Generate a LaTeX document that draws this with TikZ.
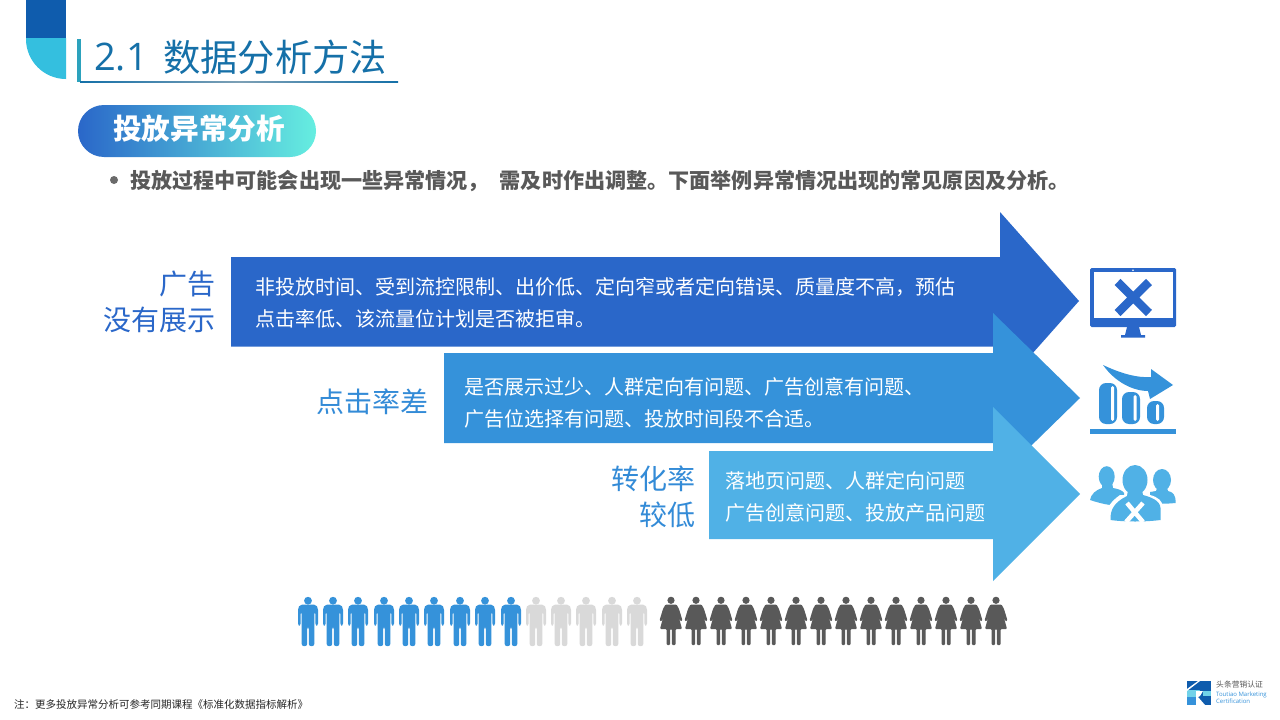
\documentclass[tikz,border=0pt]{standalone}
\usepackage{fontspec}
\setmainfont{Noto Sans CJK SC}
\newfontfamily\latinfont{Open Sans}
\usetikzlibrary{shadings}
\definecolor{deep}{HTML}{2A67C9}
\definecolor{mid}{HTML}{3592DA}
\definecolor{light}{HTML}{50B1E6}
\definecolor{navy}{HTML}{0F5CAD}
\definecolor{cyan2}{HTML}{34BFDF}
\definecolor{titleblue}{HTML}{1570A8}
\definecolor{dgray}{HTML}{595959}
\definecolor{mangray}{HTML}{D9D9D9}
\definecolor{pillend}{HTML}{66EEE0}
\tikzset{
  x=1pt,y=-1pt,
  bodytext/.style={font=\fontsize{20}{32}\selectfont,text=white,anchor=west,align=left,inner sep=0pt},
  sidelabel/.style={font=\fontsize{28}{36}\selectfont,anchor=east,align=right,inner sep=0pt},
  man/.pic={
    \fill[pic actions] (0,3.7) circle (3.9);
    \fill[pic actions,rounded corners=2] (-10,11) -- (-8,7.6) -- (8,7.6) -- (10,11) -- (10,28.5) -- (7.4,28.5) -- (7.4,15) -- (6.3,15) -- (6.3,49) -- (0.8,49) -- (0.8,30) -- (-0.8,30) -- (-0.8,49) -- (-6.3,49) -- (-6.3,15) -- (-7.4,15) -- (-7.4,28.5) -- (-10,28.5) -- cycle;
  },
  woman/.pic={
    \fill[pic actions] (0,3.3) circle (3.6);
    \fill[pic actions,rounded corners=1] (-5.5,7.5) -- (5.5,7.5) -- (8,12) -- (11.5,23.5) -- (9.6,24.5) -- (7,17) -- (11,32) -- (4.5,32) -- (4.5,48) -- (0.8,48) -- (0.8,32) -- (-0.8,32) -- (-0.8,48) -- (-4.5,48) -- (-4.5,32) -- (-11,32) -- (-7,17) -- (-9.6,24.5) -- (-11.5,23.5) -- (-8,12) -- cycle;
  },
}
\begin{document}
\begin{tikzpicture}
\useasboundingbox (0,0) rectangle (1280,720);
\fill[white] (0,0) rectangle (1280,720);
% corner accent
\fill[cyan2] (26,38) -- (66,38) -- (66,79) arc[start angle=90,end angle=180,radius=40] -- cycle;
\fill[navy] (26,0) rectangle (66,38);
% title
\fill[cyan2!85!black] (77,39) rectangle (81,82);
\shade[left color=titleblue,right color=titleblue,middle color=titleblue!55!gray!70] (80,81) rectangle (398,82.2);
\node[anchor=west,inner sep=0pt,text=titleblue,font=\fontsize{38}{38}\selectfont\latinfont] (titlenum) at (94,57) {2.1};
\node[anchor=west,inner sep=0pt,text=titleblue,font=\fontsize{37.3}{38}\selectfont] (title) at (163,57) {数据分析方法};
% pill
\shade[rounded corners=26,left color=deep,right color=pillend] (78,105) rectangle (316,157);
\node[inner sep=0pt,text=white,font=\fontsize{28.6}{30}\selectfont\bfseries] (pill) at (199,129) {投放异常分析};
% bullet line
\fill[dgray!90] (114,180) circle (4);
\node[anchor=west,inner sep=0pt,text=dgray,font=\fontsize{21.1}{24}\selectfont\bfseries] (intro) at (130,181) {投放过程中可能会出现一些异常情况，\hspace{11pt}需及时作出调整。下面举例异常情况出现的常见原因及分析。};
% arrows
\fill[deep] (231,257) -- (1000,257) -- (1000,212) -- (1079,301) -- (1000,390) -- (1000,346.5) -- (231,346.5) -- cycle;
\fill[mid] (444,353) -- (993,353) -- (993,313) -- (1080,398) -- (993,483) -- (993,443) -- (444,443) -- cycle;
\fill[light] (709,451) -- (993,451) -- (993,407) -- (1080,494) -- (993,581) -- (993,539) -- (709,539) -- cycle;
% arrow texts
\node[bodytext] (t1) at (255,303) {非投放时间、受到流控限制、出价低、定向窄或者定向错误、质量度不高，预估\\点击率低、该流量位计划是否被拒审。};
\node[bodytext] (t2) at (464,403) {是否展示过少、人群定向有问题、广告创意有问题、\\广告位选择有问题、投放时间段不合适。};
\node[bodytext] (t3) at (725,497) {落地页问题、人群定向问题\\广告创意问题、投放产品问题};
\node[sidelabel,text=deep] (l1) at (216,302) {广告\\没有展示};
\node[sidelabel,text=mid!85!deep] (l2) at (429,402) {点击率差};
\node[sidelabel,text=mid!85!deep] (l3) at (696,497) {转化率\\较低};
% monitor icon
\fill[deep,rounded corners=1.5] (1090,268) rectangle (1176,327);
\fill[white] (1093.5,272) rectangle (1172.5,318);
\fill[white] (1133,270.2) circle (0.9);
\fill[deep] (1127,327) -- (1139,327) -- (1141,335) -- (1145,335) -- (1145,337.5) -- (1121,337.5) -- (1121,335) -- (1125,335) -- cycle;
\draw[deep,line width=8.5] (1117.5,282) -- (1149,313) (1149,282) -- (1117.5,313);
% chart icon
\fill[mid] (1090,429) rectangle (1176,434);
\fill[mid,rounded corners=7] (1099,383) rectangle (1117,424);
\fill[mid,rounded corners=7] (1122,392) rectangle (1140,424);
\fill[mid,rounded corners=7] (1147,401) rectangle (1164,424);
\fill[white,rounded corners=1.5] (1111,386) rectangle (1114,421);
\fill[white,rounded corners=1.5] (1133.5,395) rectangle (1136.5,421);
\fill[white,rounded corners=1.5] (1156,404) rectangle (1159,421);
\fill[mid] (1103,365) .. controls (1122,374) and (1138,378) .. (1151,377) -- (1151,369) -- (1173,385) -- (1150,399) -- (1148,391) .. controls (1133,391) and (1115,382) .. cycle;
% people icon
\begin{scope}[light]
\fill (1106.7,476.7) ellipse (8 and 10.5);
\fill (1102,482) -- (1112,482) -- (1113,488) .. controls (1118,489) and (1122,490) .. (1124,493) -- (1124,500) -- (1110,505) .. controls (1103,504) and (1096,502) .. (1090,500) .. controls (1091,494) and (1096,490) .. (1102,488) -- cycle;
\fill (1162,480) ellipse (9 and 11);
\fill (1157,488) -- (1167,488) -- (1168,491) .. controls (1173,492) and (1176,495) .. (1175.5,503) .. controls (1165,504) and (1158,504) .. (1150,503) -- (1150,492) -- (1156,491) -- cycle;
\fill[white] (1135,480) ellipse (14.5 and 17);
\fill[white] (1120,495) -- (1150,495) .. controls (1158,497) and (1163,501) .. (1163,508) -- (1163,527) -- (1107,527) -- (1107,510) .. controls (1110,502) and (1116,498) .. (1120,495) -- cycle;
\fill (1135,480) ellipse (12.5 and 15);
\fill (1128,490) -- (1142,490) -- (1143,495) .. controls (1150,497) and (1160,500) .. (1160.5,508) -- (1160.5,520) .. controls (1145,522) and (1125,522) .. (1110.5,520) .. controls (1110,509) and (1115,502) .. (1127,496) -- cycle;
\draw[white,line width=4.5] (1127,503) -- (1143,522) (1143,503) -- (1126,522);
\end{scope}
% pictogram row
\foreach \xx in {308,333,358,384,409,434,460,485,511} {
  \path (\xx,597) pic[fill=mid] {man};
}
\foreach \xx in {536,561,586,612,637} {
  \path (\xx,597) pic[fill=mangray] {man};
}
\foreach \xx in {671,696,721,746,771,796,821,846,871,896,921,946,971,996} {
  \path (\xx,597) pic[fill=dgray] {woman};
}
% footnote
\node[anchor=west,inner sep=0pt,text=black!85,font=\fontsize{10.5}{12}\selectfont] (note) at (14,705) {注：更多投放异常分析可参考同期课程《标准化数据指标解析》};
% logo
\fill[navy] (1187,681) rectangle (1211,705);
\fill[cyan2!70!white] (1187,690) -- (1200,690) -- (1196,697) -- (1187,697) -- cycle;
\fill[mid] (1187,697) rectangle (1196,705);
\fill[white] (1187,689) -- (1198,681) -- (1200,681) -- (1187,691) -- cycle;
\fill[white] (1196,691) -- (1203,691) -- (1200,696) -- (1196,698) -- cycle;
\fill[white] (1196,697) -- (1198,697) -- (1205,705) -- (1196,705) -- cycle;
\fill[cyan2!70!white] (1203,691) rectangle (1211,696);
\node[anchor=west,inner sep=0pt,text=dgray,font=\fontsize{7.8}{8}\selectfont] (lg1) at (1216,685) {头条营销认证};
\node[anchor=west,inner sep=0pt,text=mid,font=\fontsize{6}{5.8}\selectfont\latinfont,align=left] (lg2) at (1216,698) {Toutiao Marketing\\Certification};
\end{tikzpicture}
\end{document}
